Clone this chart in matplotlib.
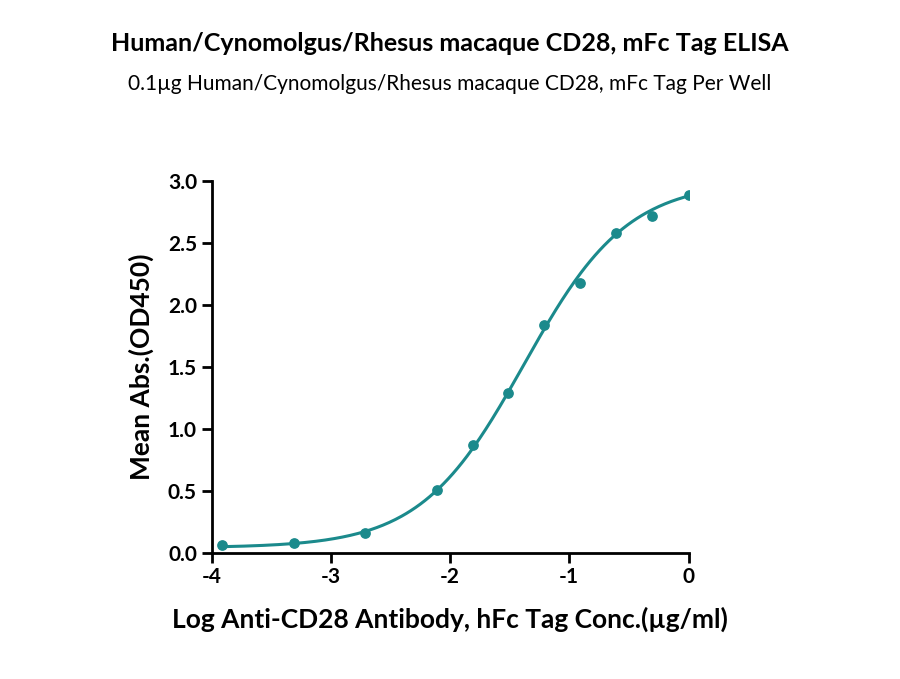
import matplotlib
matplotlib.use("Agg")
import matplotlib.pyplot as plt
import numpy as np

plt.rcParams["font.family"] = ["Lato", "DejaVu Sans"]

# measured points
log_conc = [-3.91, -3.31, -2.71, -2.11, -1.81, -1.51, -1.21, -0.91, -0.61, -0.31, 0.0]
mean_abs = [0.06, 0.08, 0.16, 0.51, 0.87, 1.29, 1.84, 2.18, 2.58, 2.72, 2.89]

# 4PL fit parameters
bottom, top, log_ec50, hill = 0.04, 3.0, -1.38, 1.0

color = "#1b8a8c"

fig = plt.figure(figsize=(9, 6.79), dpi=100)
ax = fig.add_axes([0.235, 0.186, 0.53, 0.547])

xs = np.linspace(-3.91, 0.0, 300)
ys = bottom + (top - bottom) / (1 + 10 ** ((log_ec50 - xs) * hill))
ax.plot(xs, ys, color=color, lw=2.2)
ax.scatter(log_conc, mean_abs, color=color, s=45, zorder=3)

ax.set_xlim(-4, 0)
ax.set_ylim(0, 3)
ax.set_xticks([-4, -3, -2, -1, 0])
ax.set_xticklabels(["-4", "-3", "-2", "-1", "0"])
ax.set_yticks([0, 0.5, 1.0, 1.5, 2.0, 2.5, 3.0])
ax.set_yticklabels(["0.0", "0.5", "1.0", "1.5", "2.0", "2.5", "3.0"])
for s in ["top", "right"]:
    ax.spines[s].set_visible(False)
for s in ["left", "bottom"]:
    ax.spines[s].set_linewidth(2)
ax.tick_params(width=2, length=7, labelsize=15)
for lbl in ax.get_xticklabels() + ax.get_yticklabels():
    lbl.set_fontweight("bold")

ax.set_xlabel("Log Anti-CD28 Antibody, hFc Tag Conc.(µg/ml)", fontsize=19,
              fontweight="bold", labelpad=14)
ax.set_ylabel("Mean Abs.(OD450)", fontsize=19, fontweight="bold", labelpad=10)

fig.text(0.5, 0.925, "Human/Cynomolgus/Rhesus macaque CD28, mFc Tag ELISA",
         ha="center", fontsize=18, fontweight="bold")
fig.text(0.5, 0.868, "0.1µg Human/Cynomolgus/Rhesus macaque CD28, mFc Tag Per Well",
         ha="center", fontsize=15)

fig.savefig("out.png", dpi=100)
